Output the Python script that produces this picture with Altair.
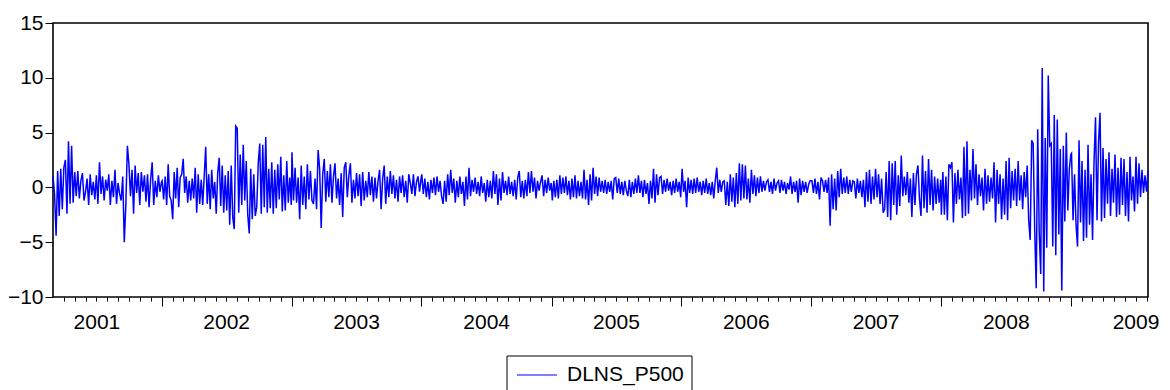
import altair as alt
import pandas as pd

# Daily log-return of the S&P 500 (percent), sampled every few trading days.
r2001 = [1.0, -0.6, -4.4, 1.5, -2.6, 1.7, -2.0,
         1.8, 2.5, -2.4, 4.2, -1.5, 3.8, -1.4,
         1.4, -0.8, 1.5, -1.0, 0.6, 1.3, -1.2,
         -0.4, 0.8, -1.6, 1.2, -0.7, 0.5, -1.1,
         1.1, -1.5, 2.3, -0.6, 1.0, -1.2, 0.7,
         -0.3, 1.2, -1.6, 0.6, -0.9, 1.6, -1.5, 0.4,
         -0.6, -1.2, 1.0, -5.0, -1.6, 3.8,
         2.1, -0.8, 1.6, -2.4, 2.0, -0.5, 1.3, -1.6,
         1.4, -0.4, 1.1, -1.3, 1.2, -1.8, 0.7,
         2.3, -1.6, 0.6, -0.9, 1.1, -0.4, 0.5]

r2002 = [0.6, -1.1, 1.0, -1.6, 2.1, -0.8, -1.2,
         -2.9, 1.4, -1.0, 1.8, -1.8, 0.9, 1.2,
         2.6, -0.5, 1.0, -1.4, 0.6, -1.2, 0.8,
         -1.0, 1.8, -2.3, 1.2, -1.5, 0.7, -1.6, 1.0,
         3.7, -1.5, 1.2, -2.0, 1.6, -1.0, 0.5,
         -2.4, 1.3, 2.7, -1.7, 2.0, -2.3, 1.1,
         -2.1, 1.5, -3.4, 2.0, -2.7, -3.8, 5.6, 5.4,
         -2.3, 3.0, -1.6, 3.9, -1.2, 2.4, -2.5,
         -4.2, 1.7, -2.9, 1.2, -2.6, -1.8, 2.2,
         4.0, -2.4, 3.9, -1.8, 4.6, -2.3, 1.7, -1.9,
         2.3, -2.4, 1.6, -1.9, 2.1, -1.1, 2.8,
         -2.2, 1.1, -2.1, 2.4, -1.4, 0.9, -1.6]

r2003 = [3.2, -1.2, 1.8, -1.4, 0.9, -2.9, 2.0,
         -1.6, 1.0, -2.0, 2.1, -1.1, 1.5, -1.2,
         -1.5, 0.8, -2.0, 3.4, 1.7, -3.7, 1.2,
         2.6, -1.3, 1.5, -0.9, 2.1, -1.4, 1.0,
         2.2, -1.0, 0.8, -1.6, 1.3, -2.7, 1.8,
         2.3, -0.9, 1.1, 2.2, -1.4, 0.7, -1.0, 1.3,
         -0.8, 1.2, -1.7, 1.4, -1.2, 0.6, -0.9,
         1.4, -0.7, 1.0, -1.3, 0.9, -1.0, 0.6,
         1.6, -2.0, 0.8, 2.0, -1.5, 1.0, -0.9,
         1.5, -0.6, 1.1, -1.0, 0.7, -1.3, 1.0, -0.5,
         1.1, -0.9, 0.6, -1.4, 1.2, 0.4,
         -0.6, 1.2, -0.8, 0.5, 1.0, -0.4, 0.8]

r2004 = [1.2, -0.6, 0.8, -0.9, 0.5, -1.1, 0.7,
         -0.5, 0.9, -0.7, 1.0, -0.4, 0.6, -0.8,
         -1.5, 0.6, -1.3, 1.2, -0.7, 1.6, -0.5,
         0.8, -1.4, 0.6, -0.9, 1.0, -0.6, 0.5,
         -1.7, 1.0, -1.1, 1.8, -0.8, 0.7, -0.4,
         0.9, -0.6, 0.5, -0.8, 1.0, -0.5, 0.4,
         -1.3, 0.7, -0.9, 0.6, -1.0, 1.5, -0.6, 1.2,
         -1.6, 0.8, -1.2, 1.4, -0.5, 0.6, -0.7,
         1.0, -0.6, 0.5, -0.8, 0.7, -1.1, 0.9,
         1.5, -0.9, 0.6, -1.0, 0.7, -0.8, 1.4, -0.5,
         1.5, -0.4, 0.9, -1.0, 0.6, -0.3, 0.5,
         1.1, -0.8, 0.7, -0.5, 0.9, -0.3, 0.4]

r2005 = [-1.2, 0.6, -0.9, 0.7, -1.0, 1.1, -0.6,
         0.9, -0.5, 1.0, -0.7, 0.6, -1.1, 0.8,
         -0.9, 1.1, -1.0, 0.6, -0.8, 0.5, -1.0,
         1.6, -1.1, 0.7, -1.6, 1.2, -1.2, 1.8,
         -0.6, 1.0, -0.8, 0.9, -0.4, 0.6, -0.5,
         0.7, -0.6, 0.5, -0.4, 0.6, -1.1, 0.8,
         0.9, -0.5, 0.8, -0.6, 0.5, -0.7, 0.6, -0.3,
         -0.8, 0.7, -0.9, 0.5, -0.6, 0.8, -0.5,
         1.1, -0.5, 0.6, -0.9, 0.7, -0.6, 0.4,
         -1.5, 0.6, -1.0, 1.7, -1.4, 1.2, -0.7, 0.9,
         1.0, -0.6, 0.7, -0.4, 0.8, -0.3, 0.5,
         -0.7, 0.6, -0.5, 0.8, -0.4, 0.5, -0.9]

r2006 = [1.7, -0.4, 0.6, -1.8, 0.9, -0.5, 0.7,
         -0.6, 0.8, -0.5, 0.9, -0.4, 0.5, -0.7,
         0.6, -0.5, 0.8, -0.6, 0.4, -0.7, 0.5,
         -1.0, 0.6, 1.8, -0.5, 0.7, -0.4, 0.5,
         0.6, -1.6, 0.5, -1.7, 1.2, -1.3, 0.9,
         -1.8, 1.3, -1.5, 2.2, -1.2, 2.1, -1.0,
         2.0, -1.1, 0.8, -1.4, 1.6, -0.6, 1.1, -0.8,
         0.9, -0.5, 1.0, -0.4, 0.6, -0.3, 0.5,
         0.7, -0.4, 0.5, -0.6, 0.8, -0.3, 0.4,
         0.6, -0.5, 0.7, -0.3, 0.5, -0.6, 0.4, -0.2,
         1.0, -0.6, 0.5, -0.4, 0.6, -1.4, 0.8,
         -0.7, 0.6, -0.4, 0.5, -0.5, 0.3, 0.6]

r2007 = [0.6, -0.5, 0.8, -0.6, 0.5, -1.1, 0.9,
         0.6, -0.4, 0.7, -0.5, 0.9, -3.5, 1.2,
         -2.0, 0.8, -2.1, 1.5, -0.9, 1.7, -0.6,
         0.9, -0.5, 1.0, -0.6, 0.7, -0.4, 0.6,
         0.5, -1.0, 0.8, -0.5, 0.6, -0.9, 0.7,
         -1.8, 1.4, -1.3, 1.6, -1.5, 1.0, -1.1,
         1.7, -0.9, 1.2, -1.5, 0.8, -2.3, -2.0, 1.4,
         -2.7, 2.4, -3.0, 2.2, -1.6, 2.4, -2.5,
         1.1, -1.7, 2.9, -0.8, 1.0, -0.7, 1.4,
         -1.4, 0.8, -2.7, 1.3, -1.6, 1.2, 2.0, -1.0,
         -2.6, 2.9, -1.9, 1.5, -2.3, 2.6, -1.6,
         1.6, -2.1, 1.0, -1.5, 0.8, -1.4, 0.7]

r2008 = [-2.5, 1.4, -2.5, 1.0, -3.0, 2.1, 1.8,
         2.3, -3.2, 1.3, -1.5, 1.6, -1.1, 0.9,
         -2.8, 3.7, -2.6, 4.2, -2.4, 1.6, -1.2,
         3.5, -1.0, 2.1, -1.6, 1.2, -0.8, 0.9,
         -2.1, 1.7, -1.5, 1.1, -1.3, 0.9, -1.0,
         2.3, -3.2, 1.6, -1.5, 1.2, -2.9, 0.8,
         -2.5, 2.4, -3.0, 2.7, -1.9, 1.5, -1.2, 1.7,
         -1.7, 2.4, -1.2, 1.1, -2.0, 1.4, -0.9,
         2.0, -3.0, -4.8, 4.3, 4.0, -3.8, -9.2, 5.3,
         -4.1, -7.9, 10.9, -9.5, 4.5, -5.5, 10.2, 3.8,
         4.0, -5.4, 6.6, -6.2, 6.2, -4.3, 3.5,
         -9.4, 3.8, -3.1, 5.0, -2.1, 1.7, 3.0]

r2009 = [3.1, -3.0, 1.2, -3.4, -5.4, 4.3, -3.2,
         2.4, -4.9, 1.6, -4.6, 3.9, -3.4, 1.2,
         -4.8, 2.3, 6.4, -3.0, 4.1, 6.8, -3.1, 3.6,
         -2.8, 2.6, -1.5, 3.2, -2.6, 1.7, -1.4,
         3.0, -2.7, 1.8, -2.5, 2.7, -1.6, 2.6,
         -2.6, 1.4, -3.1, 2.8, -1.2, 1.0, -2.2,
         2.8, -1.5, 2.2, -0.9, 1.6, -0.5, 1.1,
         -0.4, 1.5]

segments = [
    ("2001-03-01", "2001-12-31", r2001),
    ("2002-01-02", "2002-12-31", r2002),
    ("2003-01-02", "2003-12-31", r2003),
    ("2004-01-02", "2004-12-31", r2004),
    ("2005-01-03", "2005-12-30", r2005),
    ("2006-01-03", "2006-12-29", r2006),
    ("2007-01-03", "2007-12-31", r2007),
    ("2008-01-02", "2008-12-31", r2008),
    ("2009-01-02", "2009-08-05", r2009),
]

frames = []
for start, end, vals in segments:
    dates = pd.date_range(start, end, periods=len(vals))
    frames.append(pd.DataFrame({"date": dates, "value": vals}))
df = pd.concat(frames, ignore_index=True)

FONT = "Liberation Sans"
W, H = 1095, 274

# monthly tick positions; January ticks drawn longer, year label at mid-year
month_ticks = [alt.DateTime(year=y, month=m, date=1)
               for y in range(2001, 2010) for m in range(1, 13)
               if (2001, 4) <= (y, m) <= (2009, 8)]

x_scale = alt.Scale(domain=[alt.DateTime(year=2001, month=3, date=1),
                            alt.DateTime(year=2009, month=8, date=5)],
                    nice=False)

line = alt.Chart(df).mark_line(color="#0000FF", strokeWidth=1.5).encode(
    x=alt.X("date:T", scale=x_scale, title=None,
            axis=alt.Axis(values=month_ticks, grid=False, domain=False,
                          tickColor="black", tickWidth=1,
                          tickSize={"condition": {"test": "month(datum.value) === 0", "value": 9},
                                    "value": 4},
                          labelExpr="month(datum.value) === 6 ? timeFormat(datum.value, '%Y') : ''",
                          labelFont=FONT, labelFontSize=21, labelColor="black",
                          labelPadding=10, labelOverlap=False, labelFlush=False)),
    y=alt.Y("value:Q", scale=alt.Scale(domain=[-10, 15], nice=False, zero=False), title=None,
            axis=alt.Axis(values=[-10, -5, 0, 5, 10, 15], grid=False, domain=False,
                          tickColor="black", tickWidth=1, tickSize=8,
                          labelFont=FONT, labelFontSize=21, labelColor="black",
                          labelPadding=2, labelFlush=False)),
)

# legend box below the plot
legend_df = pd.DataFrame({"name": ["DLNS_P500"]})
legend_box = alt.Chart(legend_df).mark_rect(fill="white", stroke="black", strokeWidth=1).encode(
    x=alt.value(454), x2=alt.value(639), y=alt.value(333), y2=alt.value(380))
legend_line = alt.Chart(legend_df).mark_rule(color="#0000FF", strokeWidth=1.2).encode(
    x=alt.value(464), x2=alt.value(504), y=alt.value(352))
legend_text = alt.Chart(legend_df).mark_text(
    align="left", baseline="middle", font=FONT, fontSize=21, color="black"
).encode(x=alt.value(514), y=alt.value(352), text="name:N")

chart = alt.layer(line, legend_box, legend_line, legend_text).properties(
    width=W, height=H,
    background="white",
    autosize=alt.AutoSizeParams(type="none"),
    padding={"left": 53, "top": 23, "right": 22, "bottom": 93},
).configure_view(stroke="black", strokeWidth=1.6)

chart.save("out.html", embed_options={"renderer": "svg", "actions": False})
